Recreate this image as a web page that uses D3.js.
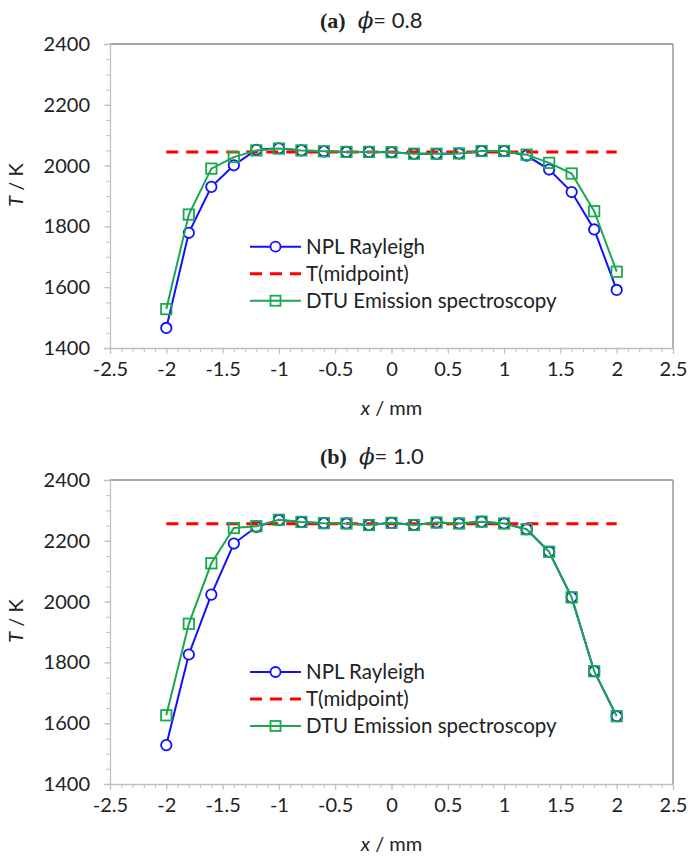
<!DOCTYPE html>
<html><head><meta charset="utf-8">
<script src="https://cdn.jsdelivr.net/npm/d3@7"></script>
<style>
body{margin:0;background:#fff;}
svg{display:block;}
text{font-family:Lato,"Open Sans",sans-serif;fill:#222;}
</style></head>
<body>
<svg id="chart" width="688" height="862"></svg>
<script>
// ---- data ----
const xValues = [-2,-1.8,-1.6,-1.4,-1.2,-1,-0.8,-0.6,-0.4,-0.2,0,0.2,0.4,0.6,0.8,1,1.2,1.4,1.6,1.8,2];
const nplA = [1466,1779,1930,2001,2052,2057,2050,2047,2045,2045,2044,2039,2039,2040,2048,2048,2033,1987,1913,1790,1591];
const dtuA = [1528,1839,1990,2028,2050,2056,2050,2047,2045,2045,2044,2039,2039,2040,2048,2048,2036,2009,1974,1850,1651];
const midA = 2045;
const nplB = [1528,1826,2023,2191,2246,2268,2262,2258,2257,2252,2259,2252,2260,2257,2263,2257,2238,2164,2014,1771,1623];
const dtuB = [1626,1927,2126,2242,2248,2269,2262,2258,2257,2252,2259,2252,2260,2257,2263,2257,2238,2164,2014,1771,1623];
const midB = 2256;
const xTicks = [-2.5,-2,-1.5,-1,-0.5,0,0.5,1,1.5,2,2.5];
const yTicks = [1400,1600,1800,2000,2200,2400];
const seriesNames = ["NPL Rayleigh","T(midpoint)","DTU Emission spectroscopy"];
const panelLabels = ["(a)","(b)"];
const phiValues = ["0.8","1.0"];

const svg = d3.select("#chart");
const BLUE = "#1010ff", RED = "#ff0000", GREEN = "#1aa84f";

const panels = [
  {top:44, label:panelLabels[0], phi:phiValues[0], npl:nplA, dtu:dtuA, mid:midA, legY:246.7},
  {top:480, label:panelLabels[1], phi:phiValues[1], npl:nplB, dtu:dtuB, mid:midB, legY:672}
];

const left = 110, right = 673, plotH = 304;
const x = d3.scaleLinear().domain([-2.5,2.5]).range([left,right]);

panels.forEach(p => {
  const g = svg.append("g");
  const y = d3.scaleLinear().domain([1400,2400]).range([p.top+plotH, p.top]);

  // frame (top & right)
  g.append("line").attr("x1",left).attr("x2",right).attr("y1",p.top).attr("y2",p.top)
    .attr("stroke","#8a8a8a").attr("stroke-width",1.3);
  g.append("line").attr("x1",right).attr("x2",right).attr("y1",p.top).attr("y2",p.top+plotH)
    .attr("stroke","#8a8a8a").attr("stroke-width",1.3);

  // y axis minor
  const yMinor = d3.range(1400,2401,50);
  g.append("g").attr("transform",`translate(${left},0)`)
    .call(d3.axisLeft(y).tickValues(yMinor).tickSize(4).tickFormat(""))
    .call(a=>{a.select(".domain").remove(); a.selectAll("line").attr("stroke","#bfbfbf");});
  const ya = g.append("g").attr("transform",`translate(${left},0)`)
    .call(d3.axisLeft(y).tickValues(yTicks).tickSize(6).tickPadding(14).tickFormat(d3.format("d")));
  ya.select(".domain").attr("stroke","#bfbfbf").attr("stroke-width",1.3);
  ya.selectAll("line").attr("stroke","#bfbfbf");
  ya.selectAll("text").style("font-size","20px").style("font-family","Lato, sans-serif").attr("fill","#222");

  // x axis minor
  const xMinor = d3.range(-25,26,1).map(v=>v/10);
  g.append("g").attr("transform",`translate(0,${p.top+plotH})`)
    .call(d3.axisBottom(x).tickValues(xMinor).tickSize(4).tickFormat(""))
    .call(a=>{a.select(".domain").remove(); a.selectAll("line").attr("stroke","#bfbfbf");});
  const xa = g.append("g").attr("transform",`translate(0,${p.top+plotH})`)
    .call(d3.axisBottom(x).tickValues(xTicks).tickSize(6).tickPadding(8).tickFormat(d=>String(d)));
  xa.select(".domain").attr("stroke","#bfbfbf").attr("stroke-width",1.3);
  xa.selectAll("line").attr("stroke","#bfbfbf");
  xa.selectAll("text").style("font-size","20px").style("font-family","Lato, sans-serif").attr("fill","#222");

  // axis titles
  const xt = g.append("text").attr("x",(left+right)/2).attr("y",p.top+plotH+67)
    .attr("text-anchor","middle").style("font-size","20px");
  xt.append("tspan").attr("font-style","italic").text("x");
  xt.append("tspan").text(" / mm");
  const yt = g.append("text").attr("transform",`translate(23,${p.top+141}) rotate(-90)`)
    .attr("text-anchor","middle").style("font-size","20px");
  yt.append("tspan").attr("font-style","italic").text("T");
  yt.append("tspan").text(" / K");

  // title
  const tt = g.append("text").attr("x",320).attr("y",p.top-16).style("font-size","22px");
  tt.append("tspan").style("font-family","'Liberation Serif',serif").attr("font-weight","bold").text(p.label);
  tt.append("tspan").style("font-family","'DejaVu Serif',serif").attr("font-style","italic").attr("dx","12").style("font-size","23px").text("\u03D5");
  tt.append("tspan").text("= " + p.phi);

  // series
  const nplData = xValues.map((v,i)=>({x:v,T:p.npl[i]}));
  const dtuData = xValues.map((v,i)=>({x:v,T:p.dtu[i]}));
  const midData = [{x:xValues[0],T:p.mid},{x:xValues[xValues.length-1],T:p.mid}];
  const line = d3.line().x(d=>x(d.x)).y(d=>y(d.T));

  g.append("path").datum(nplData).attr("d",line).attr("fill","none").attr("stroke",BLUE).attr("stroke-width",2);
  g.selectAll(".c").data(nplData).join("circle").attr("cx",d=>x(d.x)).attr("cy",d=>y(d.T)).attr("r",5.2)
    .attr("fill","#fff").attr("stroke",BLUE).attr("stroke-width",1.8);
  g.append("path").datum(midData).attr("d",line).attr("fill","none").attr("stroke",RED)
    .attr("stroke-width",3).attr("stroke-dasharray","12,8");
  g.append("path").datum(dtuData).attr("d",line).attr("fill","none").attr("stroke",GREEN).attr("stroke-width",2);
  g.selectAll(".s").data(dtuData).join("rect").attr("x",d=>x(d.x)-5.2).attr("y",d=>y(d.T)-5.2)
    .attr("width",10.4).attr("height",10.4).attr("fill","none").attr("stroke",GREEN).attr("stroke-width",1.8);

  // legend
  const lx1 = 250, lx2 = 301, rowH = 27;
  seriesNames.forEach((name,i)=>{
    const ly = p.legY + i*rowH;
    const lg = g.append("g");
    if(i===0){
      lg.append("line").attr("x1",lx1).attr("x2",lx2).attr("y1",ly).attr("y2",ly).attr("stroke",BLUE).attr("stroke-width",2);
      lg.append("circle").attr("cx",(lx1+lx2)/2).attr("cy",ly).attr("r",5).attr("fill","#fff").attr("stroke",BLUE).attr("stroke-width",1.8);
    } else if(i===1){
      lg.append("line").attr("x1",lx1).attr("x2",lx2).attr("y1",ly).attr("y2",ly).attr("stroke",RED).attr("stroke-width",3).attr("stroke-dasharray","12,8");
    } else {
      lg.append("line").attr("x1",lx1).attr("x2",lx2).attr("y1",ly).attr("y2",ly).attr("stroke",GREEN).attr("stroke-width",2);
      lg.append("rect").attr("x",(lx1+lx2)/2-5).attr("y",ly-5).attr("width",10).attr("height",10).attr("fill","none").attr("stroke",GREEN).attr("stroke-width",1.8);
    }
    lg.append("text").attr("x",lx2+5).attr("y",ly).attr("dy","0.35em").style("font-size","20.5px").text(name);
  });
});
</script>
</body></html>
